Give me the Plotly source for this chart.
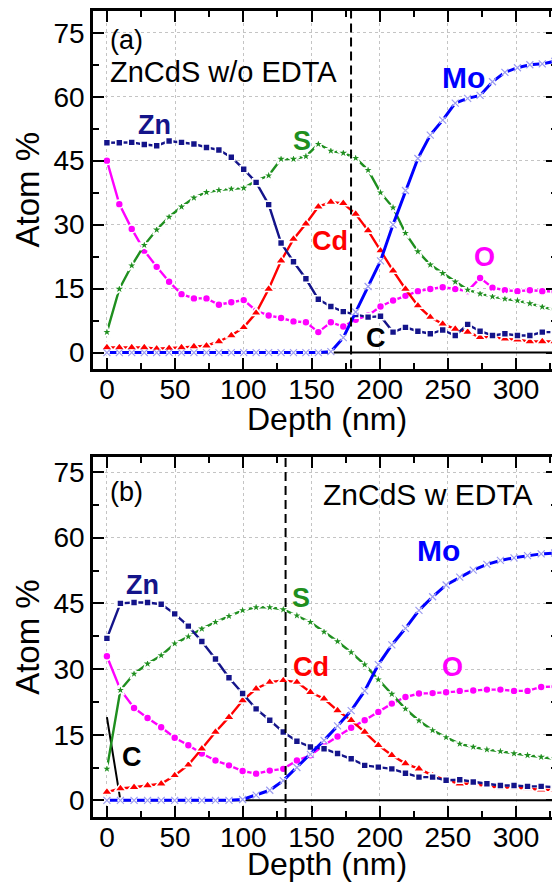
import plotly.graph_objects as go

# ---------------- data: panel (a) ZnCdS w/o EDTA ----------------
depth_a = [0, 9.1, 18.2, 27.4, 36.5, 45.6, 54.7, 63.8, 73.0, 82.1, 91.2, 100.3, 109.4,
           118.6, 127.7, 136.8, 145.9, 155.0, 164.2, 173.3, 182.4, 191.5, 200.6, 209.8,
           218.9, 228.0, 237.1, 246.2, 255.4, 264.5, 273.6, 282.7, 291.8, 301.0, 310.1,
           319.2, 328.3]
zn_a = [49.2, 49.2, 49.3, 48.8, 48.5, 49.6, 49.3, 48.9, 48.1, 47.5, 45.8, 43.0, 39.9,
        34.7, 25.7, 21.3, 17.3, 12.5, 10.8, 9.6, 8.9, 8.3, 8.5, 4.8, 5.9, 5.0, 4.4,
        5.3, 4.0, 6.6, 5.0, 4.0, 4.4, 4.0, 4.0, 4.8, 4.8]
s_a = [4.8, 14.9, 20.4, 25.2, 28.8, 31.8, 34.2, 36.3, 37.6, 38.1, 38.4, 38.6, 40.3,
       41.5, 45.4, 45.4, 46.0, 48.9, 47.3, 46.8, 45.6, 42.8, 37.5, 34.0, 28.0, 23.7,
       20.6, 18.6, 16.6, 14.7, 13.8, 13.1, 12.6, 12.2, 11.5, 10.7, 10.0]
cd_a = [1.2, 1.2, 1.2, 1.2, 0.9, 1.0, 1.2, 1.4, 1.6, 2.6, 4.0, 5.9, 9.3, 14.9, 21.5,
        26.6, 30.2, 34.2, 35.3, 35.0, 32.5, 28.6, 23.9, 19.2, 14.9, 11.0, 8.3, 6.7,
        5.5, 4.8, 3.6, 3.6, 3.2, 3.0, 2.6, 2.6, 2.6]
o_a = [45.0, 34.8, 29.0, 23.9, 20.1, 16.6, 13.7, 12.7, 12.7, 11.2, 11.8, 12.3, 9.8,
       8.7, 8.1, 7.3, 7.1, 4.8, 7.1, 6.1, 7.7, 8.7, 10.8, 12.2, 13.3, 14.4, 14.9, 15.3,
       14.9, 14.4, 17.5, 15.2, 14.6, 14.4, 14.6, 14.4, 14.3]
mo_a = [0, 0, 0, 0, 0, 0, 0, 0, 0, 0, 0, 0, 0, 0, 0, 0, 0, 0, 0.2, 3.5, 9.5, 15.5,
        21.5, 30.0, 38.0, 45.5, 51.0, 54.5, 58.5, 59.6, 60.3, 63.5, 65.7, 66.8, 67.5,
        67.7, 68.3]
c_a = [0, 0, 0, 0, 0, 0, 0, 0, 0, 0, 0, 0, 0, 0, 0, 0, 0, 0, 0, 0, 0, 0, 0, 0, 0, 0,
       0, 0, 0, 0, 0, 0, 0, 0, 0, 0, 0]
interface_a = 179

# ---------------- data: panel (b) ZnCdS w EDTA ----------------
depth_b = [0, 9.9, 19.9, 29.8, 39.8, 49.7, 59.7, 69.6, 79.6, 89.5, 99.5, 109.4, 119.4,
           129.3, 139.3, 149.2, 159.2, 169.1, 179.1, 189.0, 199.0, 208.9, 218.9, 228.8,
           238.8, 248.7, 258.7, 268.6, 278.6, 288.5, 298.5, 308.4, 318.4, 328.3]
zn_b = [37.0, 45.0, 45.2, 45.2, 44.8, 42.6, 39.8, 36.3, 32.3, 28.0, 24.4, 20.9, 18.3,
        15.6, 13.5, 12.2, 11.8, 10.7, 9.5, 8.0, 7.6, 7.2, 6.2, 5.3, 5.3, 4.6, 4.7, 4.2,
        3.8, 3.4, 3.4, 3.2, 3.2, 3.0]
s_b = [7.2, 25.2, 28.9, 31.2, 33.1, 35.8, 37.4, 39.2, 40.7, 42.1, 43.4, 44.1, 44.1,
       43.6, 42.2, 40.7, 38.5, 36.3, 33.8, 31.0, 27.6, 24.3, 20.9, 18.2, 16.0, 14.4,
       12.9, 12.2, 11.6, 11.2, 10.7, 10.3, 9.9, 9.5]
cd_b = [1.9, 2.7, 3.0, 3.4, 3.8, 5.7, 8.1, 11.8, 15.6, 19.0, 22.8, 25.5, 27.0, 27.4,
        27.0, 24.7, 23.2, 20.5, 18.3, 15.6, 12.6, 10.3, 8.4, 7.2, 5.7, 4.6, 3.8, 3.8,
        3.2, 2.9, 2.9, 2.7, 2.4, 2.4]
o_b = [32.9, 25.3, 21.1, 18.8, 16.7, 14.3, 12.6, 10.7, 9.1, 8.0, 6.7, 6.1, 6.8, 7.2,
       9.1, 10.3, 12.6, 14.6, 16.6, 18.3, 20.2, 22.1, 23.6, 24.4, 24.5, 24.7, 25.0,
       25.1, 25.3, 25.3, 25.0, 25.0, 25.9, 26.0]
mo_b = [0, 0, 0, 0, 0, 0, 0, 0, 0, 0, 0.2, 1.2, 2.3, 4.5, 7.5, 10.5, 13.7, 17.0, 20.5,
        25.0, 31.0, 35.5, 39.3, 43.4, 46.5, 49.2, 51.0, 52.6, 53.9, 54.8, 55.4, 55.9,
        56.3, 56.5]
c_b = [19.0, 0, 0, 0, 0, 0, 0, 0, 0, 0, 0, 0, 0, 0, 0, 0, 0, 0, 0, 0, 0, 0, 0, 0, 0,
       0, 0, 0, 0, 0, 0, 0, 0, 0]
interface_b = 131

x_ticks = [0, 50, 100, 150, 200, 250, 300]
y_ticks = [0, 15, 30, 45, 60, 75]

# ---------------- styles ----------------
FONT = "Liberation Sans, Arial, sans-serif"
NAVY = "#14148a"
GREEN = "#1f8f1f"
RED = "#ff0000"
MAGENTA = "#ff00ff"
BLUE = "#0000ff"
GAP = dict(color="white", width=1.6)

fig = go.Figure()


def series(depth, vals, color, symbol, size, xa, ya, width=2.4):
    fig.add_trace(go.Scatter(x=depth, y=vals, mode="lines+markers", xaxis=xa, yaxis=ya,
                             line=dict(color=color, width=width),
                             marker=dict(symbol=symbol, size=size, color=color, line=GAP),
                             showlegend=False, hoverinfo="skip"))


def add_panel(depth, zn, s, cd, o, mo, c, xa, ya):
    fig.add_trace(go.Scatter(x=depth, y=c, mode="lines", xaxis=xa, yaxis=ya,
                             line=dict(color="black", width=2), showlegend=False))
    series(depth, o, MAGENTA, "circle", 8, xa, ya)
    series(depth, cd, RED, "triangle-up", 10, xa, ya)
    series(depth, s, GREEN, "star", 9, xa, ya)
    series(depth, zn, NAVY, "square", 7, xa, ya)
    # Mo: thick line, white gaps around light "x" symbols
    fig.add_trace(go.Scatter(x=depth, y=mo, mode="lines+markers", xaxis=xa, yaxis=ya,
                             line=dict(color=BLUE, width=3),
                             marker=dict(symbol="circle", size=6, color="white"),
                             showlegend=False, hoverinfo="skip"))
    fig.add_trace(go.Scatter(x=depth, y=mo, mode="markers", xaxis=xa, yaxis=ya,
                             marker=dict(symbol="x-thin", size=7,
                                         line=dict(width=1.2, color="#9c9cf0")),
                             showlegend=False, hoverinfo="skip"))


add_panel(depth_a, zn_a, s_a, cd_a, o_a, mo_a, c_a, "x", "y")
add_panel(depth_b, zn_b, s_b, cd_b, o_b, mo_b, c_b, "x2", "y2")

axis_common = dict(showline=True, linecolor="black", linewidth=2.5, mirror="ticks",
                   ticks="inside", tickwidth=2, ticklen=11, tickcolor="black",
                   showgrid=True, gridcolor="#c4c4c4", griddash="dot", gridwidth=1,
                   zeroline=False, tickfont=dict(family=FONT, size=28, color="black"))

xa = dict(axis_common, range=[-10.2, 330], tickmode="array", tickvals=x_ticks,
          ticklabelstandoff=-6,
          minor=dict(dtick=25, tick0=0, ticks="inside", ticklen=6, tickwidth=2,
                     tickcolor="black", showgrid=False))
ya = dict(axis_common, tickmode="array", tickvals=y_ticks,
          minor=dict(dtick=7.5, tick0=0, ticks="inside", ticklen=6, tickwidth=2,
                     tickcolor="black", showgrid=False),
          title=dict(text="Atom %", font=dict(family=FONT, size=33, color="black"),
                     standoff=4))

# page body has an 8px margin: figure is 552x875 so it ends at the window edge
fig.update_layout(
    width=552, height=875,
    margin=dict(l=85, r=0, t=2, b=66),
    paper_bgcolor="white", plot_bgcolor="white",
    xaxis=dict(xa, domain=[0, 1], anchor="y"),
    yaxis=dict(ya, domain=[0.5564, 1], range=[-3.75, 80.1], anchor="x"),
    xaxis2=dict(xa, domain=[0, 1], anchor="y2"),
    yaxis2=dict(ya, domain=[0, 0.4465], range=[-3.8, 78.4], anchor="x2"),
)

# x-axis titles (placed as paper annotations so they sit exactly under each panel)
for ypos in (0.4932, -0.0582):
    fig.add_annotation(x=0.505, y=ypos, xref="paper", yref="paper", text="Depth (nm)",
                       showarrow=False, xanchor="center", yanchor="middle",
                       font=dict(family=FONT, size=32, color="black"))

# interface dashed lines
for xr, yr, xv in (("x", "y", interface_a), ("x2", "y2", interface_b)):
    fig.add_shape(type="line", xref=xr, yref=yr + " domain", x0=xv, x1=xv, y0=0, y1=1,
                  line=dict(color="black", width=2, dash="9px,5px"))


def label(text, x, y, color, xr, yr, size=27, bold=True, xanchor="center"):
    fig.add_annotation(x=x, y=y, xref=xr, yref=yr, text=text, showarrow=False,
                       xanchor=xanchor, yanchor="middle",
                       font=dict(family=FONT, size=size, color=color,
                                 weight="bold" if bold else "normal"))


# panel (a) labels
label("(a)", 1.0, 73.3, "black", "x", "y", size=27, bold=False, xanchor="left")
label("ZnCdS w/o EDTA", 1.0, 65.7, "black", "x", "y", size=29, bold=False, xanchor="left")
label("Zn", 35, 53.4, NAVY, "x", "y")
label("S", 142.8, 49.6, GREEN, "x", "y")
label("Mo", 261.8, 64.6, BLUE, "x", "y", size=30)
label("Cd", 163.6, 26.2, RED, "x", "y")
label("O", 276.8, 22.5, MAGENTA, "x", "y")
label("C", 197, 3.5, "black", "x", "y")

# panel (b) labels
label("(b)", 1.0, 70.5, "black", "x2", "y2", size=27, bold=False, xanchor="left")
label("ZnCdS w EDTA", 235.6, 69.9, "black", "x2", "y2", size=30, bold=False)
label("Zn", 25.9, 49.3, NAVY, "x2", "y2")
label("S", 142.4, 46.2, GREEN, "x2", "y2")
label("Mo", 243.3, 57.0, BLUE, "x2", "y2", size=30)
label("Cd", 149.7, 30.4, RED, "x2", "y2")
label("O", 253.5, 30.4, MAGENTA, "x2", "y2")
label("C", 18.2, 9.8, "black", "x2", "y2")

fig.write_html("out.html")
